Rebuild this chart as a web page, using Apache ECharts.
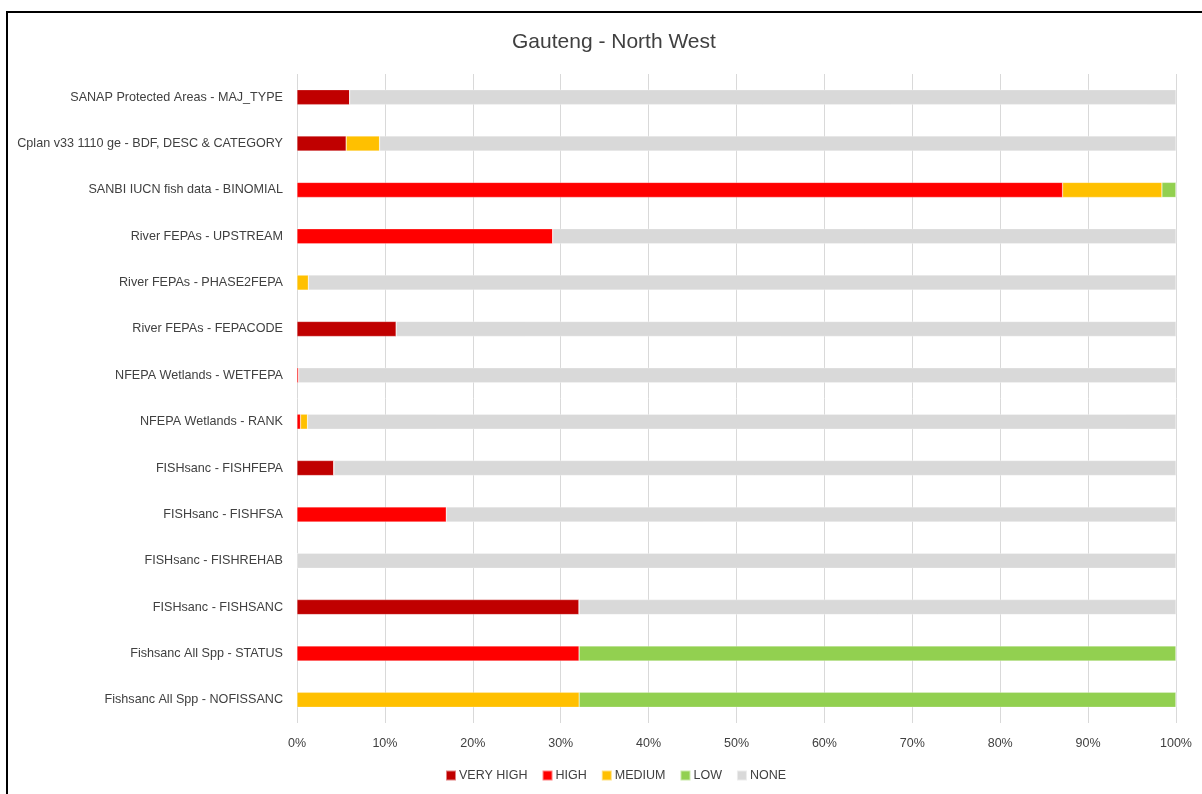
<!DOCTYPE html>
<html>
<head>
<meta charset="utf-8">
<script src="https://cdn.jsdelivr.net/npm/echarts@6/dist/echarts.min.js"></script>
<style>
html,body{margin:0;padding:0;background:#fff;overflow:hidden;}
#chart{width:1202px;height:794px;}
</style>
</head>
<body>
<div id="chart"></div>
<script>
const categories = [
  "SANAP Protected Areas - MAJ_TYPE",
  "Cplan v33 1110 ge - BDF, DESC & CATEGORY",
  "SANBI IUCN fish data - BINOMIAL",
  "River FEPAs - UPSTREAM",
  "River FEPAs - PHASE2FEPA",
  "River FEPAs - FEPACODE",
  "NFEPA Wetlands - WETFEPA",
  "NFEPA Wetlands - RANK",
  "FISHsanc - FISHFEPA",
  "FISHsanc - FISHFSA",
  "FISHsanc - FISHREHAB",
  "FISHsanc - FISHSANC",
  "Fishsanc All Spp - STATUS",
  "Fishsanc All Spp - NOFISSANC"
];
const veryHigh = [6.0, 5.6, 0, 0, 0, 11.3, 0, 0, 4.2, 0, 0, 32.1, 0, 0];
const high     = [0, 0, 87.1, 29.1, 0, 0, 0.2, 0.4, 0, 17.0, 0, 0, 32.1, 0];
const medium   = [0, 3.8, 11.3, 0, 1.3, 0, 0, 0.8, 0, 0, 0, 0, 0, 32.1];
const low      = [0, 0, 1.6, 0, 0, 0, 0, 0, 0, 0, 0, 0, 67.9, 67.9];
const none     = [94.0, 90.6, 0, 70.9, 98.7, 88.7, 99.8, 98.8, 95.8, 83.0, 100, 67.9, 0, 0];
const seriesNames = ["VERY HIGH", "HIGH", "MEDIUM", "LOW", "NONE"];
const seriesColors = ["#C00000", "#FF0000", "#FFC000", "#92D050", "#D9D9D9"];
const seriesData = [veryHigh, high, medium, low, none];
const xTicks = [0, 10, 20, 30, 40, 50, 60, 70, 80, 90, 100];

const FONT = "'Liberation Sans', 'DejaVu Sans', sans-serif";
const chart = echarts.init(document.getElementById('chart'), null, {renderer: 'canvas'});
chart.setOption({
  backgroundColor: '#ffffff',
  animation: false,
  title: {
    text: 'Gauteng - North West',
    left: 507,
    top: 27,
    textStyle: {fontFamily: FONT, fontSize: 21, fontWeight: 'normal', color: '#404040'}
  },
  graphic: [{
    type: 'rect',
    shape: {x: 7, y: 12, width: 1300, height: 900},
    style: {fill: null, stroke: '#000000', lineWidth: 2},
    silent: true,
    z: 100
  }],
  legend: {
    bottom: 7,
    left: 440,
    itemWidth: 10,
    itemHeight: 10,
    itemGap: 14,
    icon: 'rect',
    textStyle: {fontFamily: FONT, fontSize: 12.5, color: '#404040', padding: [0,0,0,-2]},
    data: seriesNames
  },
  grid: {left: 297, right: 26, top: 74, bottom: 71, containLabel: false},
  xAxis: {
    type: 'value',
    min: 0, max: 100, interval: 10,
    axisLine: {show: false},
    axisTick: {show: false},
    splitLine: {show: true, lineStyle: {color: '#D9D9D9', width: 1}},
    axisLabel: {
      fontFamily: FONT, fontSize: 12.5, color: '#404040', margin: 14,
      formatter: v => xTicks.includes(v) ? v + '%' : ''
    }
  },
  yAxis: {
    type: 'category',
    inverse: true,
    data: categories,
    axisLine: {show: false},
    axisTick: {show: false},
    axisLabel: {fontFamily: FONT, fontSize: 12.6, color: '#404040', margin: 14}
  },
  series: seriesNames.map((name, i) => ({
    name: name,
    type: 'bar',
    stack: 'total',
    barWidth: 15,
    data: seriesData[i],
    itemStyle: {color: seriesColors[i], borderColor: 'rgba(255,255,255,0.5)', borderWidth: 0.5}
  }))
});
</script>
</body>
</html>
